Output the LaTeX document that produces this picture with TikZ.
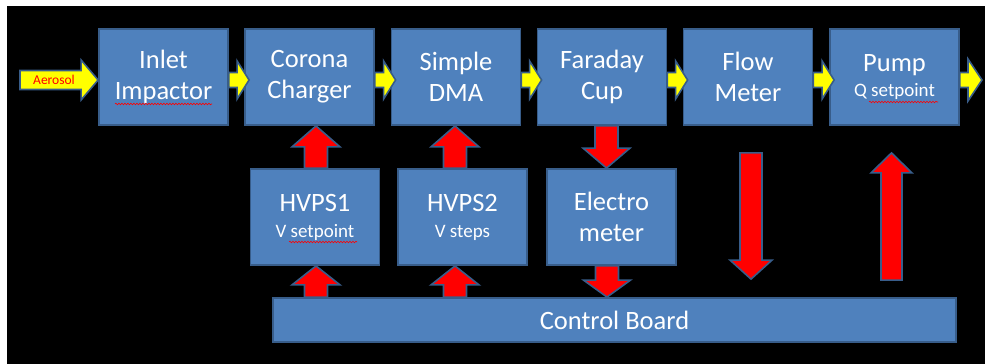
\documentclass[tikz,border=0pt]{standalone}
\usepackage{fontspec}
\setmainfont{Carlito}
\usetikzlibrary{calc,decorations.pathmorphing}
\definecolor{boxblue}{HTML}{4F81BD}
\definecolor{edgeblue}{HTML}{385D8A}
\definecolor{flowyellow}{HTML}{FFFF00}
\definecolor{sigred}{HTML}{FF0000}
\newcommand\blockarrow[6]{%
  \path (#2) coordinate (ba) (#3) coordinate (bb);
  \path ($(bb)!#6!(ba)$) coordinate (bh);
  \draw[#1] ($(ba)!#4!90:(bb)$) -- ($(bh)!#4!90:(bb)$) -- ($(bh)!#5!90:(bb)$)
    -- (bb) -- ($(bh)!#5!-90:(bb)$) -- ($(bh)!#4!-90:(bb)$)
    -- ($(ba)!#4!-90:(bb)$) -- cycle;}
\tikzset{
  blockbox/.style={draw=edgeblue, fill=boxblue, line width=1.8pt,
    minimum width=129pt, minimum height=96pt, inner sep=0pt,
    text=white, align=center, font=\fontsize{26.5}{31}\selectfont},
  subbox/.style={blockbox, font=\fontsize{26.5}{26}\selectfont},
  boardbox/.style={draw=edgeblue, fill=boxblue, line width=1.8pt,
    minimum width=683pt, minimum height=44pt, inner sep=0pt,
    text=white, font=\fontsize{26.5}{30}\selectfont},
  yarrow/.style={draw=edgeblue, fill=flowyellow, line width=1.6pt, line join=miter},
  rarrow/.style={draw=edgeblue, fill=sigred, line width=1.6pt, line join=miter},
  spell/.style={draw=sigred, line width=0.6pt,
    decorate, decoration={snake, amplitude=0.8pt, segment length=3pt}}
}
\newcommand\subline[1]{{\fontsize{19}{22}\selectfont #1}}
\begin{document}
\begin{tikzpicture}[x=1pt, y=-1pt]
  \useasboundingbox (0,0) rectangle (985,364);
  \fill[white] (0,0) rectangle (985,364);
  \fill[black] (7,6) rectangle (985,364);

  % top row
  \node[blockbox] (ii) at (163.5,77) {Inlet\\Impactor};
  \node[blockbox] (cc) at (309.5,77) {Corona\\Charger};
  \node[blockbox] (dm) at (456,77) {Simple\\DMA};
  \node[blockbox] (fc) at (602,77) {Faraday\\Cup};
  \node[blockbox] (fm) at (748,77) {Flow\\Meter};
  \node[subbox] (pu) at (894.5,77) {Pump\\[-1pt]\subline{Q setpoint}};

  % second row
  \node[subbox] (h1) at (315,217) {HVPS1\\\subline{V setpoint}};
  \node[subbox] (h2) at (462.5,217) {HVPS2\\\subline{V steps}};
  \node[blockbox] (em) at (611.5,217) {Electro\\meter};

  % control board
  \node[boardbox] (cb) at (614.5,320) {Control Board};

  % spell-check marks
  \draw[spell] (115,104) -- (212,104);
  \draw[spell] (289,242) -- (357,242);
  \draw[spell] (869,102) -- (938,102);

  % aerosol flow (yellow)
  \coordinate (src) at (20,80);
  \blockarrow{yarrow}{src}{[yshift=-3pt]ii.west}{9.5pt}{20pt}{17pt}
  \node[text=sigred, font=\fontsize{13.5}{15}\selectfont] (aer) at (54,80) {Aerosol};
  \blockarrow{yarrow}{[yshift=-3pt]ii.east}{[xshift=5pt,yshift=-3pt]cc.west}{7.5pt}{19pt}{12pt}
  \blockarrow{yarrow}{[yshift=-3pt]cc.east}{[xshift=5pt,yshift=-3pt]dm.west}{7.5pt}{19pt}{12pt}
  \blockarrow{yarrow}{[yshift=-3pt]dm.east}{[xshift=5pt,yshift=-3pt]fc.west}{7.5pt}{19pt}{12pt}
  \blockarrow{yarrow}{[yshift=-3pt]fc.east}{[xshift=5pt,yshift=-3pt]fm.west}{7.5pt}{19pt}{12pt}
  \blockarrow{yarrow}{[yshift=-3pt]fm.east}{[xshift=5pt,yshift=-3pt]pu.west}{7.5pt}{19pt}{12pt}
  \coordinate (out) at (982,80);
  \blockarrow{yarrow}{[yshift=-3pt]pu.east}{out}{7.5pt}{21pt}{14pt}

  % signals (red)
  \blockarrow{rarrow}{[xshift=1pt]h1.north}{[xshift=1pt]h1.north |- cc.south}{11.5pt}{24pt}{21pt}
  \blockarrow{rarrow}{[xshift=1pt]h1.south |- cb.north}{[xshift=1pt]h1.south}{11.5pt}{24pt}{19pt}
  \blockarrow{rarrow}{[xshift=-7.5pt]h2.north}{[xshift=-7.5pt]h2.north |- dm.south}{11.5pt}{24pt}{21pt}
  \blockarrow{rarrow}{[xshift=-7.5pt]h2.south |- cb.north}{[xshift=-7.5pt]h2.south}{11.5pt}{24pt}{19pt}
  \blockarrow{rarrow}{[xshift=4.5pt]fc.south}{[xshift=4.5pt]fc.south |- em.north}{11.5pt}{23.5pt}{20pt}
  \blockarrow{rarrow}{[xshift=-4.5pt]em.south}{[xshift=-4.5pt]em.south |- cb.north}{11.5pt}{23.5pt}{17pt}
  \coordinate (fa) at ($(fm.south)+(3,27)$);
  \coordinate (fb) at ($(fm.south |- cb.north)+(3,-18)$);
  \blockarrow{rarrow}{fa}{fb}{11pt}{21pt}{19pt}
  \coordinate (pa) at ($(pu.south |- cb.north)+(-3,-17)$);
  \coordinate (pb) at ($(pu.south)+(-3,27)$);
  \blockarrow{rarrow}{pa}{pb}{10.5pt}{20.5pt}{20pt}
\end{tikzpicture}
\end{document}
